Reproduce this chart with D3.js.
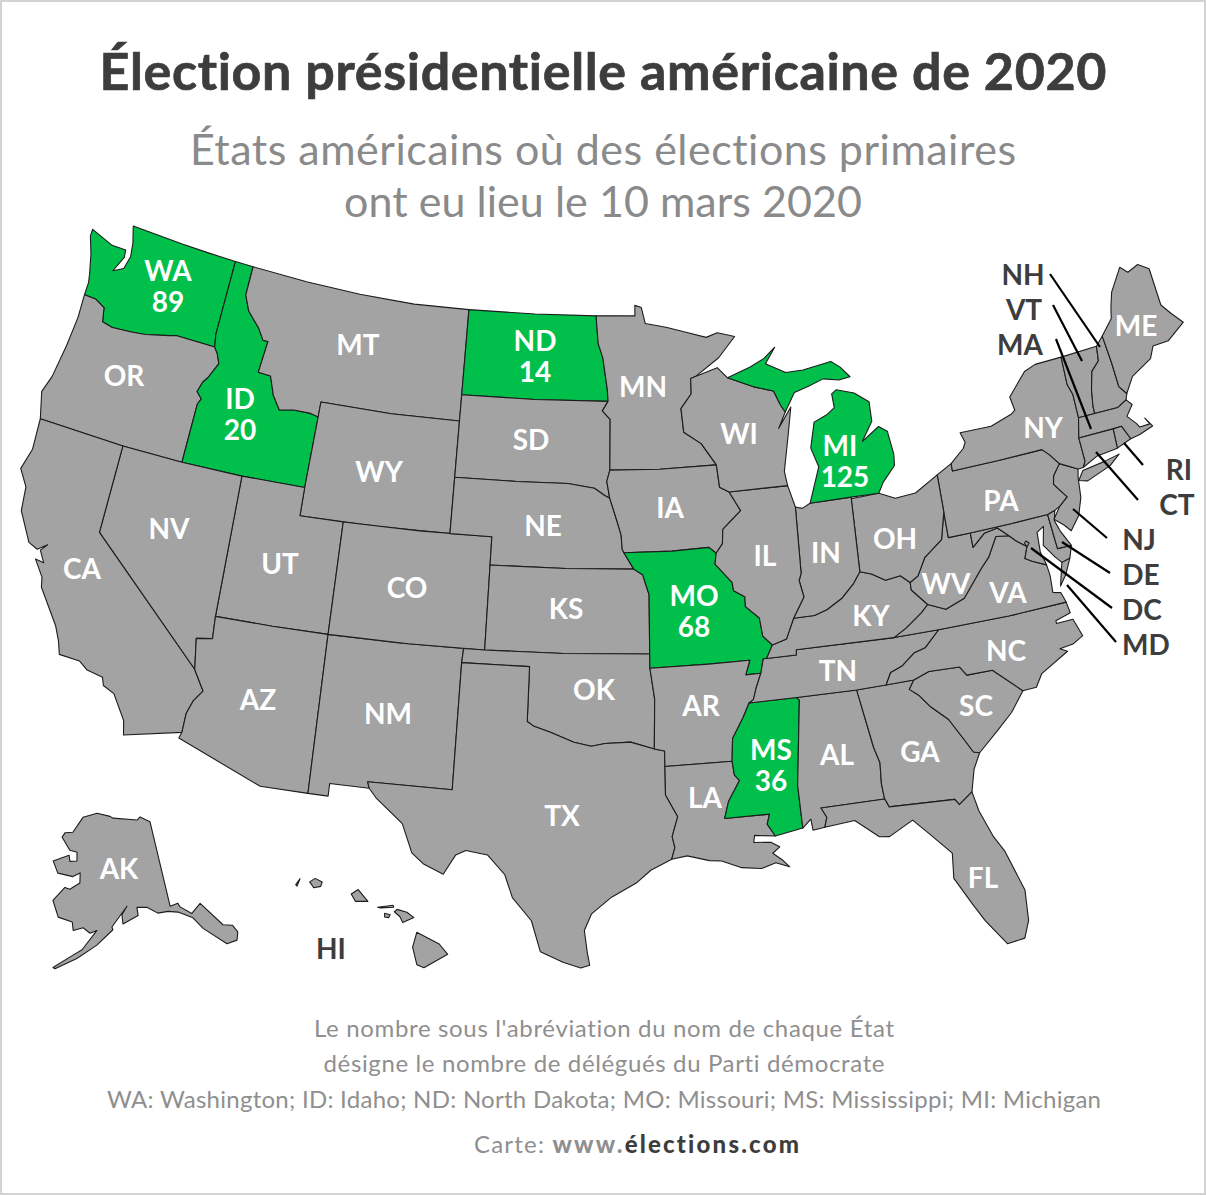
<!DOCTYPE html>
<html lang="fr">
<head>
<meta charset="utf-8">
<script src="https://cdn.jsdelivr.net/npm/d3@7"></script>
<style>
  body { margin: 0; background: #fff; }
  text { font-family: Lato, sans-serif; font-variant-ligatures: none; }
</style>
</head>
<body>
<div id="map"></div>
<script>
var width = 1206, height = 1195;

// Data Setup
var title = "Élection présidentielle américaine de 2020";
var subtitle = ["États américains où des élections primaires", "ont eu lieu le 10 mars 2020"];
var notes = ["Le nombre sous l'abréviation du nom de chaque État",
             "désigne le nombre de délégués du Parti démocrate",
             "WA: Washington; ID: Idaho; ND: North Dakota; MO: Missouri; MS: Mississippi; MI: Michigan"];
var delegateStates = ["WA", "ID", "ND", "MO", "MS", "MI"];
var delegateCounts = [89, 20, 14, 68, 36, 125];

// state outlines, lon/lat
var WA = [[[-124.73,48.38],[-123.5,48.13],[-122.75,48.15],[-122.7,47.9],[-123.05,47.35],[-122.55,47.55],[-122.4,48],[-122.5,48.45],[-122.75,49],[-120,49],[-118.5,49],[-117.03,49],[-117.03,46.42],[-116.92,46],[-118.98,46],[-119.3,45.93],[-120.5,45.72],[-121.2,45.65],[-122.2,45.58],[-122.75,45.65],[-122.9,46.1],[-123.45,46.27],[-124.05,46.27],[-124.05,46.7],[-124.15,47],[-124.4,47.6],[-124.73,48.15]]];
var OR = [[[-124.05,46.27],[-123.45,46.27],[-122.9,46.1],[-122.75,45.65],[-122.2,45.58],[-121.2,45.65],[-120.5,45.72],[-119.3,45.93],[-118.98,46],[-116.92,46],[-116.7,45.8],[-116.5,45.5],[-116.85,44.95],[-117.05,44.75],[-117.2,44.4],[-116.9,44.2],[-117.03,44],[-117.03,42],[-120,42],[-124.2,42],[-124.55,42.84],[-124.3,43.4],[-124.1,44.5],[-124,45.5]]];
var ID = [[[-117.03,49],[-116.05,49],[-116.05,48],[-115.7,47.5],[-114.95,47],[-114.6,46.65],[-114.33,46.65],[-114.45,45.55],[-113.8,45.52],[-113.45,44.9],[-113,44.45],[-112.3,44.55],[-111.5,44.55],[-111.05,44.47],[-111.05,42],[-114.04,42],[-117.03,42],[-117.03,44],[-116.9,44.2],[-117.2,44.4],[-117.05,44.75],[-116.85,44.95],[-116.5,45.5],[-116.7,45.8],[-116.92,46],[-117.03,46.42]]];
var MT = [[[-116.05,49],[-113,49],[-110,49],[-107,49],[-104.05,49],[-104.05,45.94],[-104.05,45],[-107.5,45],[-111.05,45],[-111.05,44.47],[-111.5,44.55],[-112.3,44.55],[-113,44.45],[-113.45,44.9],[-113.8,45.52],[-114.45,45.55],[-114.33,46.65],[-114.6,46.65],[-114.95,47],[-115.7,47.5],[-116.05,48]]];
var WY = [[[-111.05,45],[-107.5,45],[-104.05,45],[-104.05,43],[-104.05,41],[-107.5,41],[-111.05,41],[-111.05,42],[-111.05,44.47]]];
var UT = [[[-114.04,42],[-111.05,42],[-111.05,41],[-109.05,41],[-109.05,37],[-111.5,37],[-114.04,37]]];
var NV = [[[-120,42],[-117.03,42],[-114.04,42],[-114.04,37],[-114.04,36.2],[-114.75,36.1],[-114.63,35],[-120,39]]];
var CA = [[[-124.2,42],[-120,42],[-120,39],[-114.63,35],[-114.15,34.3],[-114.5,33.9],[-114.7,33.4],[-114.72,32.72],[-117.12,32.2],[-117.25,32.7],[-117.9,33.55],[-118.4,33.75],[-118.5,34.03],[-119.2,34.15],[-119.6,34.4],[-120.5,34.45],[-120.65,34.9],[-120.9,35.4],[-121.9,36.6],[-122,36.95],[-122.5,37.5],[-122.1,37.45],[-122.4,37.85],[-122.15,38.1],[-122.55,37.85],[-123,38],[-123.75,39],[-123.85,39.8],[-124.35,40.3],[-124.1,41]]];
var AZ = [[[-114.63,35],[-114.75,36.1],[-114.04,36.2],[-114.04,37],[-111.5,37],[-109.05,37],[-109.05,31.33],[-111.07,31.33],[-114.8,32.5],[-114.72,32.72],[-114.7,33.4],[-114.5,33.9],[-114.15,34.3]]];
var NM = [[[-109.05,37],[-106,37],[-103,37],[-103.04,36.5],[-103.04,32],[-106.62,32],[-106.53,31.78],[-108.2,31.78],[-108.2,31.33],[-109.05,31.33]]];
var CO = [[[-109.05,41],[-105.5,41],[-102.05,41],[-102.05,40],[-102.05,37],[-105.5,37],[-109.05,37]]];
var ND = [[[-104.05,49],[-100.5,49],[-97.23,49],[-97.1,48],[-96.85,47.5],[-96.6,46.35],[-96.56,45.94],[-100.3,45.94],[-104.05,45.94]]];
var SD = [[[-104.05,45.94],[-100.3,45.94],[-96.56,45.94],[-96.85,45.6],[-96.45,45.3],[-96.45,43.5],[-96.6,43.1],[-96.45,42.5],[-96.7,42.6],[-97.2,42.85],[-98.5,43],[-101,43],[-104.05,43]]];
var NE = [[[-104.05,43],[-101,43],[-98.5,43],[-97.2,42.85],[-96.7,42.6],[-96.45,42.5],[-96.1,41.7],[-95.9,41.2],[-95.85,40.7],[-95.77,40.58],[-95.31,40],[-98.5,40],[-102.05,40],[-102.05,41],[-104.05,41]]];
var KS = [[[-102.05,40],[-98.5,40],[-95.31,40],[-94.9,39.8],[-94.61,39.1],[-94.62,37],[-98.5,37],[-102.05,37]]];
var OK = [[[-103,37],[-102.05,37],[-98.5,37],[-94.62,37],[-94.62,36.5],[-94.43,35.4],[-94.48,33.64],[-95.5,33.9],[-96.6,33.85],[-97.2,33.75],[-97.95,33.88],[-98.95,34.2],[-99.7,34.4],[-100,34.56],[-100,36.5],[-103.04,36.5]]];
var TX = [[[-106.62,32],[-103.04,32],[-103.04,36.5],[-100,36.5],[-100,34.56],[-99.7,34.4],[-98.95,34.2],[-97.95,33.88],[-97.2,33.75],[-96.6,33.85],[-95.5,33.9],[-94.48,33.64],[-94.04,33.55],[-94.04,33],[-94.04,31.99],[-93.55,31.2],[-93.8,30.5],[-93.7,30.1],[-93.84,29.7],[-94.7,29.35],[-95.3,28.9],[-96.3,28.4],[-97.1,27.8],[-97.38,27.2],[-97.25,26.4],[-97.15,25.96],[-97.5,25.85],[-98.2,26.05],[-99.1,26.4],[-99.5,27.5],[-100.3,28.3],[-100.65,29.1],[-101.4,29.77],[-102.3,29.88],[-102.7,29.7],[-103.15,28.98],[-104,29.3],[-104.5,29.65],[-105,30.65],[-106.2,31.47],[-106.53,31.78]]];
var MN = [[[-97.23,49],[-95.15,49],[-95.15,49.38],[-94.8,49.3],[-94.6,48.72],[-93.5,48.55],[-92.4,48.3],[-91.4,48.07],[-90.8,48.2],[-89.9,48],[-90.8,47.3],[-92.05,46.7],[-92.3,46.65],[-92.3,46.1],[-92.85,45.6],[-92.75,44.75],[-91.9,44.3],[-91.2,43.5],[-94,43.5],[-96.45,43.5],[-96.45,45.3],[-96.85,45.6],[-96.56,45.94],[-96.6,46.35],[-96.85,47.5],[-97.1,48]]];
var IA = [[[-96.45,43.5],[-94,43.5],[-91.2,43.5],[-91.1,42.7],[-90.65,42.5],[-90.15,41.8],[-91.05,41.2],[-91.1,40.7],[-91.42,40.38],[-91.75,40.61],[-93.5,40.58],[-95.77,40.58],[-95.85,40.7],[-95.9,41.2],[-96.1,41.7],[-96.45,42.5],[-96.6,43.1]]];
var MO = [[[-95.77,40.58],[-93.5,40.58],[-91.75,40.61],[-91.42,40.38],[-91.5,40],[-90.75,39.3],[-90.7,39],[-90.2,38.75],[-90.2,38.4],[-89.6,37.95],[-89.5,37.3],[-89.1,36.95],[-89.4,36.5],[-89.55,36.5],[-89.7,36],[-90.37,36],[-90.15,36.5],[-92,36.5],[-94.62,36.5],[-94.62,37],[-94.61,39.1],[-94.9,39.8],[-95.31,40]]];
var AR = [[[-94.62,36.5],[-92,36.5],[-90.15,36.5],[-90.37,36],[-89.7,36],[-89.95,35.5],[-90.1,35.1],[-90.3,35],[-90.6,34.5],[-91.1,33.8],[-91.17,33],[-94.04,33],[-94.04,33.55],[-94.48,33.64],[-94.43,35.4]]];
var LA = [[[-94.04,33],[-91.17,33],[-91.1,32.5],[-90.9,32.3],[-91.4,31.6],[-91.6,31],[-89.73,31],[-89.85,30.65],[-89.55,30.2],[-90.4,30.3],[-90.45,30.05],[-89.75,30],[-89.4,29.8],[-89.7,29.6],[-89.3,29.3],[-89.05,29.05],[-89.6,29.25],[-90.2,29.1],[-91,29.2],[-91.8,29.5],[-92.3,29.55],[-93.2,29.78],[-93.84,29.7],[-93.7,30.1],[-93.8,30.5],[-93.55,31.2],[-94.04,31.99]]];
var MS = [[[-90.3,35],[-88.2,35],[-88.1,34.9],[-88.47,31.9],[-88.4,30.37],[-89.55,30.2],[-89.85,30.65],[-89.73,31],[-91.6,31],[-91.4,31.6],[-90.9,32.3],[-91.1,32.5],[-91.17,33],[-91.1,33.8],[-90.6,34.5]]];
var AL = [[[-88.2,35],[-85.6,34.98],[-85.18,32.87],[-85,32.3],[-85.05,31.55],[-85,31],[-87.6,31],[-87.4,30.65],[-87.52,30.3],[-88,30.25],[-88.05,30.65],[-88.4,30.37],[-88.47,31.9],[-88.1,34.9]]];
var GA = [[[-85.6,34.98],[-83.1,35],[-83.35,34.7],[-83,34.45],[-82.55,33.95],[-81.9,33.4],[-81.4,32.6],[-81.1,32.1],[-80.85,32.03],[-81.2,31.5],[-81.45,30.72],[-82.05,30.36],[-82.2,30.57],[-84.86,30.7],[-85,31],[-85.05,31.55],[-85,32.3],[-85.18,32.87]]];
var FL = [[[-87.6,31],[-85,31],[-84.86,30.7],[-82.2,30.57],[-82.05,30.36],[-81.45,30.72],[-81.3,30],[-80.9,29],[-80.55,28.4],[-80.05,26.9],[-80.13,25.8],[-80.4,25.2],[-81.1,25.13],[-81.8,26.1],[-82.2,26.8],[-82.75,27.8],[-82.65,28.7],[-83.4,29.5],[-84,30.1],[-85,29.65],[-85.4,29.7],[-86.3,30.4],[-87.52,30.3],[-87.4,30.65]]];
var SC = [[[-83.1,35],[-82.4,35.2],[-81.05,35.15],[-80.8,34.82],[-79.67,34.8],[-78.55,33.86],[-79.2,33.2],[-79.9,32.7],[-80.85,32.03],[-81.1,32.1],[-81.4,32.6],[-81.9,33.4],[-82.55,33.95],[-83,34.45],[-83.35,34.7]]];
var NC = [[[-81.68,36.59],[-78.5,36.55],[-75.87,36.55],[-75.8,36.15],[-76.5,36],[-76.5,35.9],[-75.75,35.9],[-75.5,35.25],[-76,35.05],[-76.6,35],[-76.3,34.85],[-77.6,34.3],[-77.95,33.87],[-78.55,33.86],[-79.67,34.8],[-80.8,34.82],[-81.05,35.15],[-82.4,35.2],[-83.1,35],[-84.32,34.99],[-84.05,35.4],[-83.5,35.57],[-82.9,35.95],[-82.4,36.05]]];
var TN = [[[-90.3,35],[-90.1,35.1],[-89.95,35.5],[-89.7,36],[-89.55,36.5],[-89.4,36.5],[-88.07,36.5],[-88.05,36.68],[-83.68,36.6],[-81.68,36.59],[-82.4,36.05],[-82.9,35.95],[-83.5,35.57],[-84.05,35.4],[-84.32,34.99],[-85.6,34.98],[-88.2,35]]];
var KY = [[[-89.1,36.95],[-88.45,37.1],[-88.05,37.8],[-87.1,37.8],[-86.5,37.95],[-85.8,38.26],[-85.2,38.7],[-84.82,39.1],[-84.3,38.95],[-83.7,38.65],[-83,38.72],[-82.6,38.42],[-82.6,38.15],[-81.97,37.54],[-82.3,37.3],[-83.1,36.85],[-83.68,36.6],[-88.05,36.68],[-88.07,36.5],[-89.4,36.5]]];
var VA = [[[-83.68,36.6],[-81.68,36.59],[-78.5,36.55],[-75.87,36.55],[-76,36.92],[-76.35,37],[-76.3,37.6],[-76.35,38],[-76.95,38.25],[-77.25,38.4],[-77.04,38.8],[-77.5,39.1],[-77.75,39.32],[-78.35,39.4],[-78.85,38.75],[-79.3,38.4],[-80.3,37.5],[-81.2,37.25],[-81.97,37.54],[-82.3,37.3],[-83.1,36.85]],
          [[-75.25,38.03],[-75.65,37.95],[-75.95,37.15],[-75.6,37.5]]];
var WV = [[[-81.97,37.54],[-81.2,37.25],[-80.3,37.5],[-79.3,38.4],[-78.85,38.75],[-78.35,39.4],[-77.75,39.32],[-78.2,39.68],[-78.85,39.6],[-79.48,39.2],[-79.48,39.72],[-80.52,39.72],[-80.52,40.64],[-80.85,39.7],[-81.75,39.2],[-82.2,38.6],[-82.6,38.42],[-82.6,38.15]]];
var MD = [[[-79.48,39.72],[-77.5,39.72],[-75.79,39.72],[-75.7,38.46],[-75.05,38.45],[-75.25,38.03],[-75.65,37.95],[-75.9,38.2],[-76.3,38.7],[-76.1,39.35],[-76.45,39.2],[-76.5,38.5],[-76.35,38],[-76.95,38.25],[-77.25,38.4],[-77.04,38.8],[-77.5,39.1],[-77.75,39.32],[-78.2,39.68],[-78.85,39.6],[-79.48,39.2]]];
var DC = [[[-77.12,38.93],[-77.04,39],[-76.91,38.9],[-77.04,38.79]]];
var DE = [[[-75.79,39.72],[-75.42,39.8],[-75.55,39.45],[-75.4,39.05],[-75.05,38.45],[-75.7,38.46]]];
var NJ = [[[-74.7,41.36],[-73.9,41],[-74,40.7],[-74.1,40],[-74.4,39.4],[-74.9,38.95],[-75.15,39.2],[-75.55,39.5],[-75.15,39.9],[-74.72,40.15],[-75.2,40.7],[-75.1,41]]];
var PA = [[[-80.52,41.98],[-79.76,42.27],[-79.76,42],[-77.5,42],[-75.35,42],[-75.05,41.75],[-74.7,41.36],[-75.1,41],[-75.2,40.7],[-74.72,40.15],[-75.15,39.9],[-75.42,39.8],[-75.79,39.72],[-77.5,39.72],[-79.48,39.72],[-80.52,39.72],[-80.52,40.64]]];
var NY = [[[-79.76,42.27],[-79.05,42.7],[-78.9,42.9],[-79.05,43.27],[-77.5,43.25],[-76.4,43.5],[-76.2,43.6],[-76.3,44.1],[-75.3,44.85],[-74.7,45],[-73.35,45],[-73.4,44],[-73.25,43.6],[-73.27,42.75],[-73.5,42.05],[-73.49,41.2],[-73.65,41],[-73.9,41],[-74.7,41.36],[-75.05,41.75],[-75.35,42],[-77.5,42],[-79.76,42]],
          [[-74,40.6],[-73.7,40.9],[-72.6,41],[-71.85,41.1],[-72.4,40.8],[-73.6,40.5]]];
var VT = [[[-73.35,45],[-71.5,45.01],[-71.6,44.5],[-72.05,44.2],[-72.3,43.6],[-72.45,43],[-72.46,42.73],[-73.27,42.75],[-73.25,43.6],[-73.4,44]]];
var NH = [[[-71.5,45.01],[-71.08,45.3],[-71,44.3],[-70.98,43.4],[-70.7,43.08],[-70.82,42.87],[-71.3,42.7],[-72.46,42.73],[-72.45,43],[-72.3,43.6],[-72.05,44.2],[-71.6,44.5]]];
var ME = [[[-71.08,45.3],[-70.4,45.8],[-70.25,46.2],[-70,46.7],[-69.23,47.46],[-68.9,47.2],[-68.3,47.35],[-67.8,47.07],[-67.8,45.7],[-67.45,45.3],[-67,44.85],[-68,44.4],[-68.8,44.4],[-69.1,44],[-70.2,43.6],[-70.7,43.08],[-70.98,43.4],[-71,44.3]]];
var MA = [[[-73.5,42.05],[-73.27,42.75],[-72.46,42.73],[-71.3,42.7],[-70.82,42.87],[-70.6,42.65],[-71,42.3],[-70.65,41.95],[-70.55,41.8],[-70.05,41.8],[-70.2,42.05],[-69.95,41.7],[-70.65,41.55],[-71.12,41.5],[-71.38,42.02],[-71.8,42.02]]];
var RI = [[[-71.8,42.02],[-71.38,42.02],[-71.12,41.5],[-71.85,41.32]]];
var CT = [[[-73.5,42.05],[-71.8,42.02],[-71.85,41.32],[-72.9,41.25],[-73.65,41],[-73.49,41.2]]];
var OH = [[[-84.82,39.1],[-84.8,41.7],[-83.45,41.73],[-82.7,41.45],[-81.7,41.5],[-80.52,41.98],[-80.52,40.64],[-80.85,39.7],[-81.75,39.2],[-82.2,38.6],[-82.6,38.42],[-83,38.72],[-83.7,38.65],[-84.3,38.95]]];
var IN = [[[-84.8,41.7],[-84.8,41.76],[-86.8,41.76],[-87.2,41.62],[-87.52,41.7],[-87.53,39.35],[-87.65,39.1],[-87.5,38.5],[-88.05,37.8],[-87.1,37.8],[-86.5,37.95],[-85.8,38.26],[-85.2,38.7],[-84.82,39.1]]];
var IL = [[[-90.65,42.5],[-87.8,42.49],[-87.52,41.7],[-87.53,39.35],[-87.65,39.1],[-87.5,38.5],[-88.05,37.8],[-88.45,37.1],[-89.1,36.95],[-89.5,37.3],[-89.6,37.95],[-90.2,38.4],[-90.2,38.75],[-90.7,39],[-90.75,39.3],[-91.5,40],[-91.42,40.38],[-91.1,40.7],[-91.05,41.2],[-90.15,41.8]]];
var WI = [[[-92.05,46.7],[-90.9,46.95],[-90.4,46.55],[-89.1,46.13],[-88.1,45.9],[-87.8,45.35],[-87.6,45.1],[-88,44.55],[-87.3,45.25],[-87.55,44.3],[-87.9,43],[-87.8,42.49],[-90.65,42.5],[-91.1,42.7],[-91.2,43.5],[-91.9,44.3],[-92.75,44.75],[-92.85,45.6],[-92.3,46.1],[-92.3,46.65]]];
var MI = [[[-90.4,46.55],[-89.2,46.85],[-88.45,47.1],[-87.85,47.45],[-88.4,46.9],[-87.4,46.5],[-86.5,46.5],[-85,46.65],[-84.55,46.4],[-84.1,46],[-84.7,45.95],[-85.5,46.08],[-86.3,45.9],[-87.05,45.75],[-87.6,45.1],[-87.8,45.35],[-88.1,45.9],[-89.1,46.13]],
          [[-86.8,41.76],[-84.8,41.76],[-83.45,41.73],[-83.15,42.1],[-82.5,42.6],[-82.45,43],[-82.6,43.85],[-83,44.07],[-83.9,43.65],[-83.3,44.3],[-83.3,45],[-84,45.4],[-84.9,45.62],[-85.15,45.5],[-85.1,45],[-85.5,44.8],[-86.2,44.6],[-86.5,43.7],[-86.2,43]]];
var AK = [[[-140.7,60.1],[-138.9,60.25],[-138.6,59.8],[-136.5,58.8],[-134.2,59.6],[-131.1,56.6],[-129.4,56.2],[-128.9,55.3],[-129.6,54.5],[-131.6,54.5],[-135.1,56.9],[-136.5,58.3],[-139.3,59.3],[-141.4,59.6],[-143.6,59.6],[-145.8,60.4],[-148,60.5],[-147.9,59.6],[-151.25,58.8],[-151.4,59.8],[-150.2,60.7],[-153.6,58.5],[-153.4,58.2],[-156.6,56.5],[-160.3,54.9],[-164.1,53.5],[-164.5,53.6],[-161.6,55],[-159.45,55.9],[-156.7,58.1],[-158.1,57.75],[-159.6,58.3],[-161.6,57.9],[-162,58.8],[-165.1,59.1],[-166.9,60.8],[-164.7,62.4],[-163.5,62.3],[-161.3,63.1],[-161.5,64.2],[-163.2,63.7],[-167,63.8],[-168.8,65],[-165,65.95],[-164.5,65.3],[-162.7,65.45],[-163,66.4],[-165,66.5],[-167.8,67.75],[-167.2,68.3],[-165,68.5],[-162.6,70.3],[-158.2,70.9],[-154,70.6],[-153,70.4],[-145.5,70],[-144.4,70.3],[-141.6,69.6]]];
var HI = [[[-155.9,20.25],[-155.1,19.85],[-154.8,19.5],[-155.65,19.05],[-155.9,19.15],[-156.05,19.75]],
          [[-156.7,20.95],[-156.6,21.03],[-156.25,20.93],[-156,20.75],[-156.4,20.58],[-156.5,20.78]],
          [[-157.3,21.1],[-156.75,21.17],[-156.72,21.1],[-157.2,21.08]],
          [[-157.05,20.9],[-156.85,20.85],[-156.9,20.75],[-157.05,20.77]],
          [[-158.25,21.55],[-158,21.7],[-157.65,21.3],[-157.95,21.3],[-158.1,21.3]],
          [[-159.75,21.95],[-159.55,22.07],[-159.3,21.95],[-159.35,21.8],[-159.6,21.75]],
          [[-160.25,21.85],[-160.1,22.05],[-160.2,21.8]]];

var lower48 = {WA:WA,OR:OR,ID:ID,MT:MT,WY:WY,UT:UT,NV:NV,CA:CA,AZ:AZ,NM:NM,CO:CO,ND:ND,SD:SD,NE:NE,KS:KS,OK:OK,TX:TX,MN:MN,IA:IA,MO:MO,AR:AR,LA:LA,MS:MS,AL:AL,GA:GA,FL:FL,SC:SC,NC:NC,TN:TN,KY:KY,VA:VA,WV:WV,MD:MD,DC:DC,DE:DE,NJ:NJ,PA:PA,NY:NY,VT:VT,NH:NH,ME:ME,MA:MA,RI:RI,CT:CT,OH:OH,IN:IN,IL:IL,WI:WI,MI:MI};

// Projections
var albers = d3.geoAlbers().rotate([96,0]).center([-0.6,38.7]).scale(1610).translate([606,606]);
var alaska = d3.geoConicEqualArea().parallels([55,65]).rotate([154,0]).center([0,58.5]).scale(525).translate([110,927]);
var hawaii = d3.geoConicEqualArea().parallels([8,18]).rotate([157,0]).center([0,20.5]).scale(1700).translate([386,925]);

// the source map bends harder than plain Albers at both ends, this follows it
var westShift = d3.scaleLinear().domain([250,490,600,700]).range([7,-6,-6,0]).clamp(true);
function lower48Proj(p) {
    var q = albers(p), x = q[0], y = q[1];
    var nx = x, ny = y;
    if (x < 400) {
        ny -= Math.max(0, 500 - y) * 0.08 * (400 - x) / 275;
        nx += westShift(y) * Math.min(1, (400 - x) / 150);
    }
    if (x > 650) {
        ny -= 0.042 * (x - 650);
    }
    if (x > 800) {
        nx += (y - 600) * (y < 600 ? 0.014 : 0.018) * Math.min(1, (x - 800) / 150);
    }
    return [nx, ny];
}

var svg = d3.select("#map").append("svg")
            .attr("width", width)
            .attr("height", height)
            .style("display", "block");

svg.append("rect")
   .attr("x", 1).attr("y", 1)
   .attr("width", width - 2).attr("height", height - 2)
   .attr("fill", "#fff").attr("stroke", "#d3d3d3").attr("stroke-width", 2);

function outline(rings, proj) {
    var line = d3.line().curve(d3.curveLinearClosed);
    return rings.map(function(r) { return line(r.map(function(p) { return proj(p); })); }).join("");
}

var states = Object.keys(lower48).map(function(k) { return {code: k, rings: lower48[k], proj: lower48Proj}; });
states.push({code: "AK", rings: AK, proj: alaska});
states.push({code: "HI", rings: HI, proj: hawaii});

svg.append("g").selectAll("path")
   .data(states)
   .enter()
   .append("path")
   .attr("d", function(d) { return outline(d.rings, d.proj); })
   .attr("fill", function(d) { return delegateStates.indexOf(d.code) >= 0 ? "#00bf4a" : "#a3a3a3"; })
   .attr("stroke", "#1c1c1c")
   .attr("stroke-width", 1.1)
   .attr("stroke-linejoin", "round");

// Leader lines for the small states
var leaders = [[1050,274,1100,347],[1053,305,1082,361],[1056,339,1091,429],[1143,465,1124,443],[1138,500,1096,452],
               [1107,538,1073,509],[1110,573,1062,542],[1112,608,1031,548],[1116,642,1067,585]];
svg.append("g").selectAll("line")
   .data(leaders)
   .enter()
   .append("line")
   .attr("x1", function(d) { return d[0]; })
   .attr("y1", function(d) { return d[1]; })
   .attr("x2", function(d) { return d[2]; })
   .attr("y2", function(d) { return d[3]; })
   .attr("stroke", "#000")
   .attr("stroke-width", 2.2);

// State labels, centre of the abbreviation
var labelAt = {WA:[168,270],OR:[124,375],ID:[240,398],MT:[358,344],WY:[379,471],UT:[280,563],NV:[169,528],CA:[82,568],AZ:[258,699],NM:[388,713],CO:[407,587],
    ND:[535,340],SD:[531,439],NE:[543,525],KS:[566,608],OK:[594,689],TX:[562,815],MN:[643,386],IA:[670,507],MO:[694,595],AR:[701,705],LA:[705,797],
    WI:[739,433],IL:[765,555],MS:[771,749],AL:[837,754],MI:[840,445],IN:[826,552],KY:[871,615],TN:[838,670],OH:[895,538],GA:[920,751],FL:[983,877],
    SC:[976,705],NC:[1006,650],VA:[1008,592],WV:[946,583],PA:[1001,500],NY:[1043,427],ME:[1136,325],AK:[119,868],HI:[331,948],
    NH:[1023,274],VT:[1024,309],MA:[1020,344],RI:[1179,469],CT:[1177,504],NJ:[1139,539],DE:[1141,574],DC:[1142,609],MD:[1146,644]};
var outside = ["HI","NH","VT","MA","RI","CT","NJ","DE","DC","MD"];
var labels = svg.append("g").selectAll("text")
   .data(Object.keys(labelAt))
   .enter()
   .append("text")
   .attr("x", function(d) { return labelAt[d][0]; })
   .attr("y", function(d) { return labelAt[d][1] + 10.5; })
   .attr("text-anchor", "middle")
   .attr("font-size", 28)
   .attr("font-weight", 700)
   .attr("fill", function(d) { return outside.indexOf(d) >= 0 ? "#3d3d3d" : "#fff"; })
   .text(function(d) { return d; });

// delegate count goes under the abbreviation, same text element
labels.filter(function(d) { return delegateStates.indexOf(d) >= 0; })
   .append("tspan")
   .attr("x", function(d) { return labelAt[d][0] + (d == "MI" ? 5 : 0); })
   .attr("dy", 31)
   .text(function(d) { return delegateCounts[delegateStates.indexOf(d)]; });

// Titles
svg.append("text")
   .attr("x", 603).attr("y", 90)
   .attr("text-anchor", "middle")
   .attr("font-size", 52).attr("font-weight", 700)
   .attr("fill", "#3d3d3d")
   .attr("stroke", "#3d3d3d").attr("stroke-width", 0.7)
   .attr("textLength", 1007)
   .text(title);

var subWidths = [826, 518];
svg.append("g").selectAll("text")
   .data(subtitle)
   .enter()
   .append("text")
   .attr("x", 603)
   .attr("y", function(d, i) { return 165 + i * 52; })
   .attr("text-anchor", "middle")
   .attr("font-size", 43)
   .attr("fill", "#8a8a8a")
   .attr("textLength", function(d, i) { return subWidths[i]; })
   .text(function(d) { return d; });

var noteWidths = [580, 561, 994];
svg.append("g").selectAll("text")
   .data(notes)
   .enter()
   .append("text")
   .attr("x", 604)
   .attr("y", function(d, i) { return 1037 + i * 35.3; })
   .attr("text-anchor", "middle")
   .attr("font-size", 24)
   .attr("fill", "#8f8f8f")
   .attr("textLength", function(d, i) { return noteWidths[i]; })
   .text(function(d) { return d; });

var credit = svg.append("text")
   .attr("x", 474).attr("y", 1153)
   .attr("font-size", 24)
   .attr("fill", "#8f8f8f")
   .attr("textLength", 326);
credit.append("tspan").text("Carte: ");
credit.append("tspan").attr("font-weight", 900).attr("letter-spacing", 1).text("www.");
credit.append("tspan").attr("font-weight", 900).attr("letter-spacing", 1).attr("fill", "#3d3d3d").text("élections.com");
</script>
</body>
</html>
